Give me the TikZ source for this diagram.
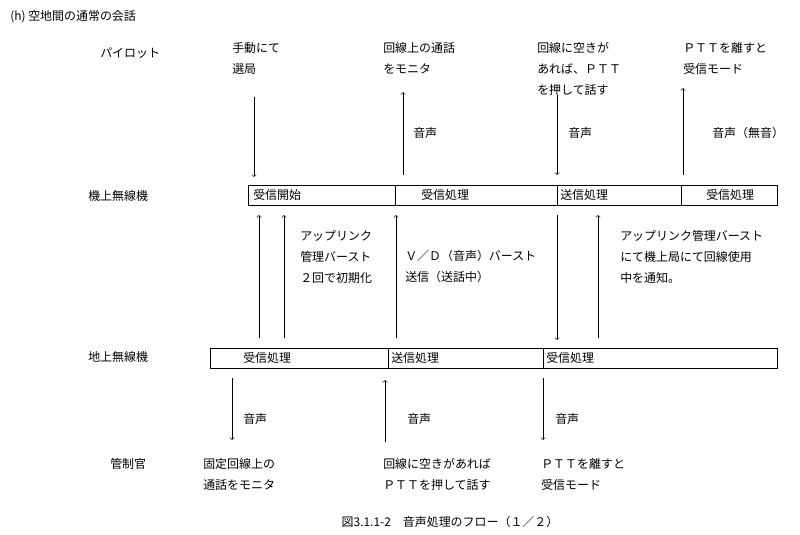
\documentclass[tikz,border=0pt]{standalone}
\usepackage{fontspec}
\setmainfont{Noto Sans CJK JP}
\begin{document}
\begin{tikzpicture}[x=0.025cm,y=-0.025cm,
    txt/.style={anchor=north west, align=left, inner sep=0pt, font=\fontsize{8.5}{15}\selectfont},
    seg/.style={draw=black, minimum height=0.5cm, anchor=north west, inner sep=0pt},
    segtxt/.style={anchor=west, inner sep=0pt, font=\fontsize{8.5}{10}\selectfont},
    arrow/.style={->, thin}
]
\useasboundingbox (0,0) rectangle (800,534);

% heading
\node[txt] (title) at (10,10) {(h)\ 空地間の通常の会話};

% row labels
\node[txt] (pilot) at (100,48) {パイロット};
\node[txt] (air) at (88,190) {機上無線機};
\node[txt] (gnd) at (88,351) {地上無線機};
\node[txt] (atc) at (110,458) {管制官};

% upper bar
\node[seg, minimum width=3.675cm] (a1) at (248,185) {};
\node[seg, minimum width=4.05cm] (a2) at (395,185) {};
\node[seg, minimum width=3.1cm] (a3) at (557,185) {};
\node[seg, minimum width=2.4cm] (a4) at (681,185) {};
\node[segtxt] (a1t) at (253,195) {受信開始};
\node[segtxt] (a2t) at (421,195) {受信処理};
\node[segtxt] (a3t) at (560,195) {送信処理};
\node[segtxt] (a4t) at (706,195) {受信処理};

% lower bar
\node[seg, minimum width=4.45cm] (b1) at (210,348) {};
\node[seg, minimum width=3.875cm] (b2) at (388,348) {};
\node[seg, minimum width=5.85cm] (b3) at (543,348) {};
\node[segtxt] (b1t) at (243,358) {受信処理};
\node[segtxt] (b2t) at (391,358) {送信処理};
\node[segtxt] (b3t) at (546,358) {受信処理};

% pilot texts
\node[txt] (p1) at (232,42) {手動にて\\選局};
\node[txt] (p2) at (383,42) {回線上の通話\\をモニタ};
\node[txt] (p3) at (537,42) {回線に空きが\\あれば、ＰＴＴ\\を押して話す};
\node[txt] (p4) at (683,42) {ＰＴＴを離すと\\受信モード};
\node[txt] (v1) at (413,127) {音声};
\node[txt] (v2) at (568,127) {音声};
\node[txt] (v3) at (712,127) {音声（無音）};

% middle texts
\node[txt] (m1) at (300,230) {アップリンク\\管理バースト\\２回で初期化};
\node[txt] (m2) at (405,250) {Ｖ／Ｄ（音声）バースト\\送信（送話中）};
\node[txt] (m3) at (620,230) {アップリンク管理バースト\\にて機上局にて回線使用\\中を通知。};

% controller texts
\node[txt] (w1) at (243,413) {音声};
\node[txt] (w2) at (407,413) {音声};
\node[txt] (w3) at (555,413) {音声};
\node[txt] (c1) at (203,458) {固定回線上の\\通話をモニタ};
\node[txt] (c2) at (383,458) {回線に空きがあれば\\ＰＴＴを押して話す};
\node[txt] (c3) at (541,458) {ＰＴＴを離すと\\受信モード};

% caption
\node[font=\fontsize{8.5}{10}\selectfont] (cap) at (450,522) {図3.1.1-2\quad 音声処理のフロー（１／２）};

% arrow ends
\coordinate (t1) at (254,97);  \coordinate (t1e) at (254,177);
\coordinate (t2) at (403,175); \coordinate (t2e) at (403,92);
\coordinate (t3) at (557,95);  \coordinate (t3e) at (557,175);
\coordinate (t4) at (683,175); \coordinate (t4e) at (683,88);
\coordinate (u1) at (259,338); \coordinate (u1e) at (259,215);
\coordinate (u2) at (284,338); \coordinate (u2e) at (284,215);
\coordinate (u3) at (396,338); \coordinate (u3e) at (396,215);
\coordinate (u4) at (557,215); \coordinate (u4e) at (557,340);
\coordinate (u5) at (598,338); \coordinate (u5e) at (598,215);
\coordinate (d1) at (232,378); \coordinate (d1e) at (232,440);
\coordinate (d2) at (385,442); \coordinate (d2e) at (385,380);
\coordinate (d3) at (543,378); \coordinate (d3e) at (543,440);

% Arrows
\foreach \s in {t1,t2,t3,t4,u1,u2,u3,u4,u5,d1,d2,d3}
  \draw[arrow] (\s) -- (\s e);

\end{tikzpicture}
\end{document}
